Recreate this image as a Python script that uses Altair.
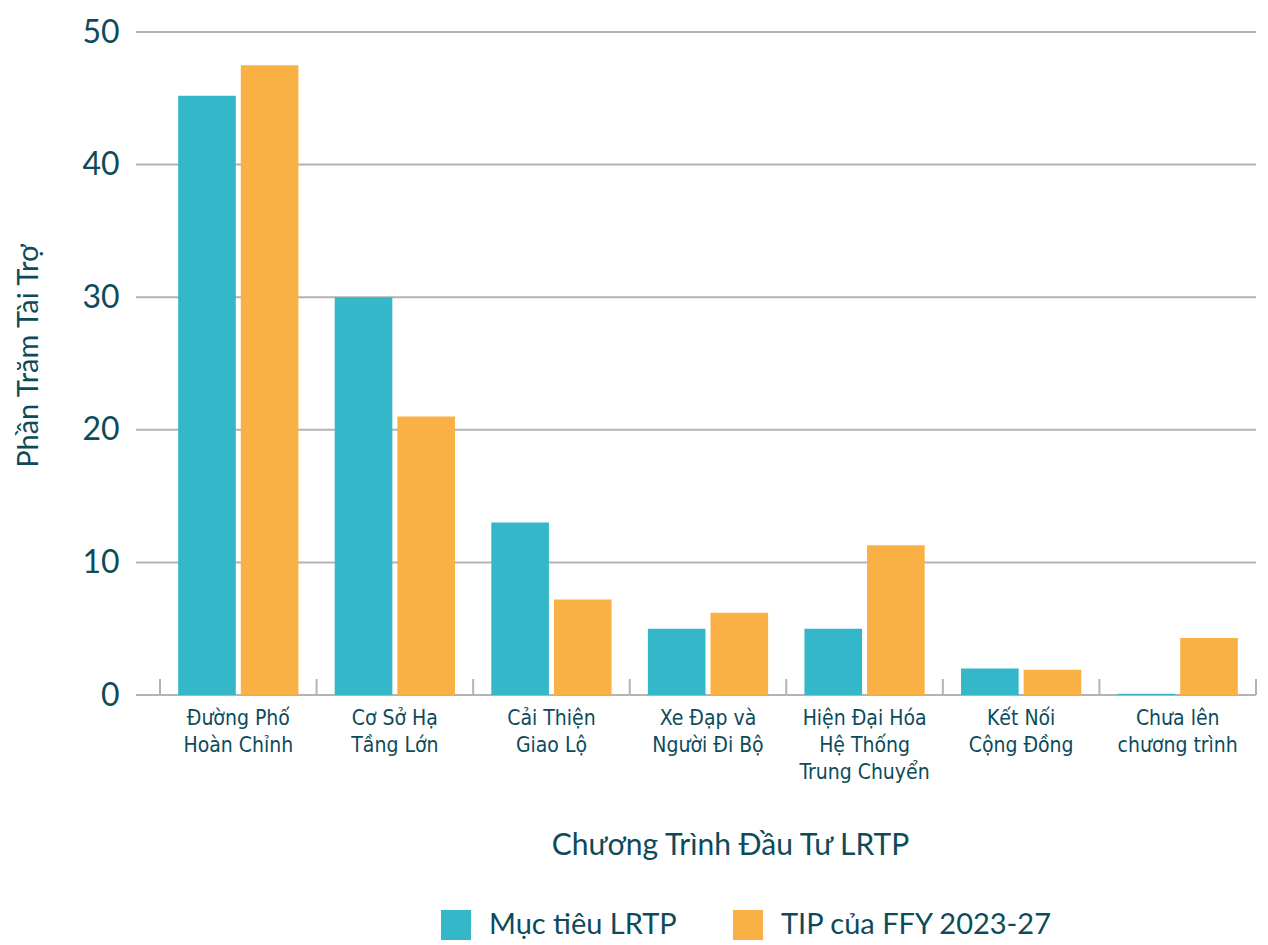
import altair as alt
import pandas as pd

categories = ["Đường Phố\nHoàn Chỉnh", "Cơ Sở Hạ\nTầng Lớn", "Cải Thiện\nGiao Lộ",
              "Xe Đạp và\nNgười Đi Bộ", "Hiện Đại Hóa\nHệ Thống\nTrung Chuyển",
              "Kết Nối\nCộng Đồng", "Chưa lên\nchương trình"]
series_names = ["Mục tiêu LRTP", "TIP của FFY 2023-27"]
lrtp = [45.2, 30.0, 13.0, 5.0, 5.0, 2.0, 0.1]
tip = [47.5, 21.0, 7.2, 6.2, 11.3, 1.9, 4.3]
grid_values = [0, 10, 20, 30, 40, 50]
colors = ["#34b7c9", "#f9b045"]

TEXT = "#0d4b5b"
COND = "DejaVu Sans Condensed, Liberation Sans Narrow, Roboto Condensed, Roboto"
W, H = 1096, 663

rows = []
for c, a, b in zip(categories, lrtp, tip):
    rows.append({"cat": c, "series": series_names[0], "value": a})
    rows.append({"cat": c, "series": series_names[1], "value": b})
df = pd.DataFrame(rows)
grid_df = pd.DataFrame({"v": grid_values})
tick_df = pd.DataFrame({"cat": categories})
last_df = pd.DataFrame({"cat": categories[-1:]})

yscale = alt.Scale(domain=[0, 50], nice=False)
xscale = alt.Scale(paddingInner=0, paddingOuter=0)
yaxis = alt.Axis(title="Phần Trăm Tài Trợ", values=grid_values, grid=False,
                 ticks=False, domain=False, offset=24, labelPadding=17,
                 labelFont="Lato", labelFontSize=32, labelColor=TEXT,
                 titleFont="Lato", titleFontWeight="normal", titleFontSize=29,
                 titleColor=TEXT, titlePadding=38, titleY=H / 2 - 8)

grid = alt.Chart(grid_df).mark_rule(color="#b3b3b3", strokeWidth=2).encode(
    y=alt.Y("v:Q", scale=yscale, axis=yaxis, title="Phần Trăm Tài Trợ"),
    x=alt.value(-24), x2=alt.value(W),
)

bars = alt.Chart(df).mark_bar().encode(
    x=alt.X("cat:N", sort=categories, scale=xscale,
            axis=alt.Axis(title="Chương Trình Đầu Tư LRTP", labelAngle=0,
                          labelExpr="split(datum.value, '\\n')",
                          ticks=False, domain=False, labelPadding=12,
                          labelFont=COND, labelFontWeight="normal",
                          labelFontSize=21, labelLineHeight=27, labelColor=TEXT,
                          labelBaseline="top", labelLimit=0,
                          titleFont="Lato", titleFontWeight="normal", titleFontSize=30,
                          titleColor=TEXT, titlePadding=48, titleX=W / 2 + 22)),
    xOffset=alt.XOffset("series:N", sort=series_names,
                        scale=alt.Scale(paddingInner=0.08, paddingOuter=0.29)),
    y=alt.Y("value:Q", scale=yscale, axis=yaxis, title="Phần Trăm Tài Trợ"),
    color=alt.Color("series:N", sort=series_names,
                    scale=alt.Scale(domain=series_names, range=colors),
                    legend=alt.Legend(title=None, orient="none", direction="horizontal",
                                      legendX=281, legendY=878,
                                      symbolType="square", symbolSize=900,
                                      symbolStrokeWidth=0, symbolOpacity=1,
                                      labelFont="Lato", labelFontSize=29,
                                      labelColor=TEXT, labelOffset=18, labelLimit=0,
                                      columnPadding=56)),
)

xticks = alt.Chart(tick_df).mark_rule(color="#b3b3b3", strokeWidth=2).encode(
    x=alt.X("cat:N", sort=categories, bandPosition=0, scale=xscale),
    y=alt.value(H - 16), y2=alt.value(H),
)
xticks_last = alt.Chart(last_df).mark_rule(color="#b3b3b3", strokeWidth=2).encode(
    x=alt.X("cat:N", sort=categories, bandPosition=1, scale=xscale),
    y=alt.value(H - 16), y2=alt.value(H),
)

chart = alt.layer(grid, bars, xticks, xticks_last).properties(
    width=W, height=H,
    padding={"left": 6, "top": 8, "right": 0, "bottom": 0},
).configure_view(stroke=None)

chart.save("out.html", embed_options={"renderer": "svg", "actions": False})
